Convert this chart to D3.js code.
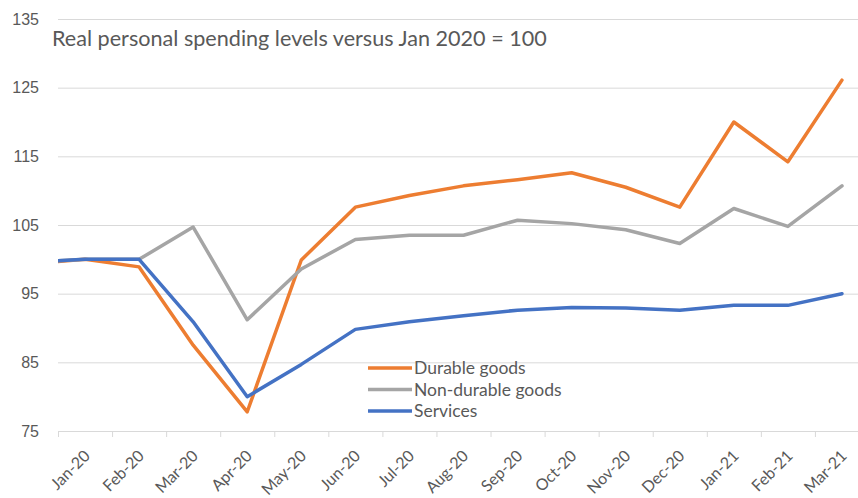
<!DOCTYPE html>
<html>
<head>
<meta charset="utf-8">
<script src="https://cdn.jsdelivr.net/npm/d3@7"></script>
<style>
  html, body { margin: 0; padding: 0; background: #fff; }
  svg { display: block; font-family: Lato, "Open Sans", sans-serif; }
</style>
</head>
<body>
<svg id="chart" width="858" height="498"></svg>
<script>
// Months on the category axis; the leading Dec-19 value only feeds the
// line segment entering the plot from the left edge.
const months = ["Dec-19", "Jan-20", "Feb-20", "Mar-20", "Apr-20", "May-20", "Jun-20", "Jul-20",
                "Aug-20", "Sep-20", "Oct-20", "Nov-20", "Dec-20", "Jan-21", "Feb-21", "Mar-21"];
const durable    = [99.4, 100, 98.9, 87.5, 77.8, 99.9, 107.6, 109.3, 110.7, 111.6, 112.6, 110.5, 107.6, 120.0, 114.2, 126.1];
const nonDurable = [99.6, 100, 100.0, 104.7, 91.2, 98.6, 102.9, 103.5, 103.5, 105.7, 105.2, 104.3, 102.3, 107.4, 104.8, 110.7];
const services   = [99.6, 100, 100.0, 90.9, 80.0, 84.7, 89.8, 90.9, 91.8, 92.6, 93.0, 92.9, 92.6, 93.3, 93.3, 95.0];
const yTicks = [75, 85, 95, 105, 115, 125, 135];
const seriesNames = ["Durable goods", "Non-durable goods", "Services"];
const seriesColors = ["#ED7D31", "#A5A5A5", "#4472C4"];
const title = "Real personal spending levels versus Jan 2020 = 100";

const svg = d3.select("#chart");
const plot = { left: 58, right: 869, top: 19, bottom: 431 };

const x = d3.scaleLinear().domain([0.5, months.length - 0.5]).range([plot.left, plot.right]);
const y = d3.scaleLinear().domain([75, 135]).range([plot.bottom, plot.top]);

svg.append("defs").append("clipPath").attr("id", "plotClip")
  .append("rect")
  .attr("x", plot.left).attr("y", 0)
  .attr("width", plot.right - plot.left).attr("height", 498);

// Horizontal gridlines with value labels
const yAxis = d3.axisLeft(y).tickValues(yTicks).tickSize(-(plot.right - plot.left)).tickPadding(6);
const gy = svg.append("g").attr("transform", `translate(${plot.left},0)`).call(yAxis);
gy.select(".domain").remove();
gy.selectAll(".tick line").attr("stroke", "#d9d9d9").attr("stroke-width", 1);
gy.selectAll(".tick text").attr("fill", "#595959").style("font-size", "16px").attr("x", -19).attr("text-anchor", "end");

// Category axis: ticks sit between months, labels rotated
const shown = months.slice(1);
const boundaries = d3.range(0.5, months.length, 1);
const xAxis = d3.axisBottom(x).tickValues(boundaries).tickSize(6).tickFormat("");
const gx = svg.append("g").attr("transform", `translate(0,${plot.bottom})`).call(xAxis);
gx.select(".domain").attr("stroke", "#d9d9d9");
gx.selectAll(".tick line").attr("stroke", "#d9d9d9");

svg.append("g").selectAll("text")
  .data(shown)
  .join("text")
  .attr("transform", (d, i) => `translate(${x(i + 1) - 2},${plot.bottom + 18}) rotate(-45)`)
  .attr("text-anchor", "end")
  .attr("dy", "0.7em")
  .attr("fill", "#595959")
  .style("font-size", "16px")
  .text(d => d);

// Series lines
const line = d3.line().x((d, i) => x(i)).y(d => y(d));
const lines = svg.append("g").attr("clip-path", "url(#plotClip)");
[durable, nonDurable, services].forEach((vals, k) => {
  lines.append("path")
    .datum(vals)
    .attr("fill", "none")
    .attr("stroke", seriesColors[k])
    .attr("stroke-width", 3.5)
    .attr("stroke-linejoin", "round")
    .attr("stroke-linecap", "round")
    .attr("d", line);
});

// Title
svg.append("text")
  .attr("x", 52).attr("y", 46)
  .attr("fill", "#595959")
  .style("font-size", "21.6px")
  .text(title);

// Legend
const legend = svg.append("g").attr("transform", "translate(368,368)");
seriesNames.forEach((name, k) => {
  const row = legend.append("g").attr("transform", `translate(0,${k * 21.5})`);
  row.append("line").attr("x1", 0).attr("x2", 44).attr("y1", 0).attr("y2", 0)
    .attr("stroke", seriesColors[k]).attr("stroke-width", 3.5);
  row.append("text").attr("x", 46).attr("dy", "0.35em")
    .attr("fill", "#595959").style("font-size", "17.5px").text(name);
});
</script>
</body>
</html>
